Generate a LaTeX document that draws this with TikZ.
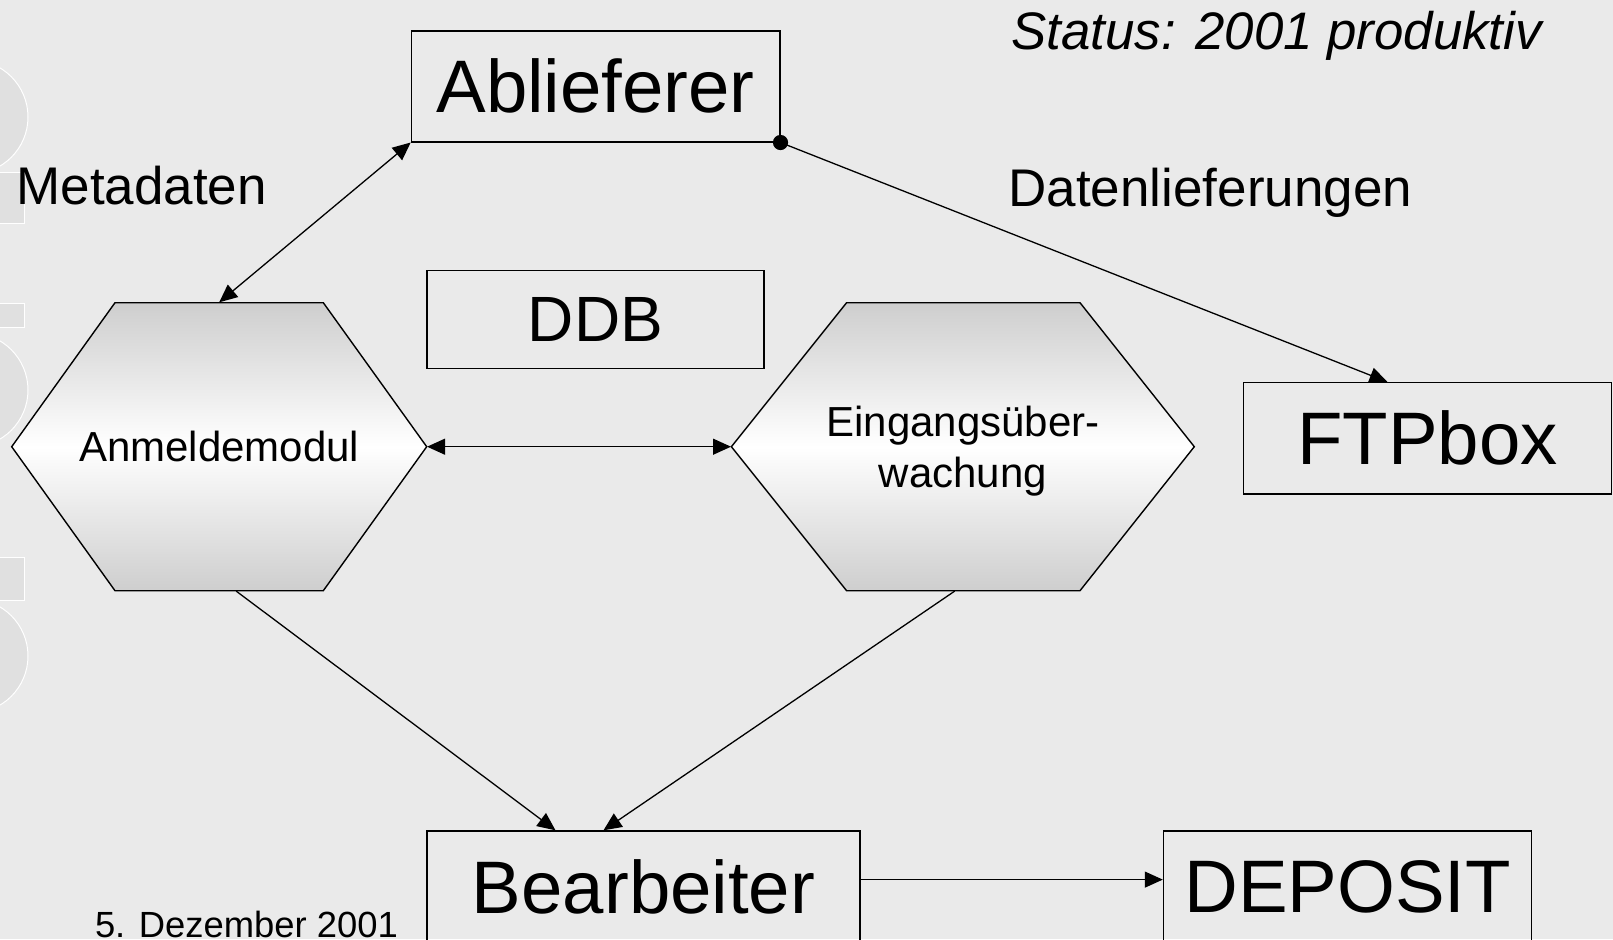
\documentclass[tikz,border=0pt]{standalone}
\usepackage{fontspec}
\setmainfont{Liberation Sans}
\usetikzlibrary{positioning, arrows.meta}

\definecolor{slidegray}{RGB}{234,234,234}
\definecolor{logogray}{RGB}{224,224,224}
\definecolor{hexgray}{RGB}{206,206,206}

\tikzset{
	box/.style={draw, line width=0.7pt, inner sep=0pt, font=\fontsize{37.2}{44}\selectfont},
	hexfill/.style={draw, line width=0.7pt, top color=hexgray, bottom color=hexgray, middle color=white},
	hexlabel/.style={inner sep=0pt, align=center, text depth=0pt, font=\fontsize{21}{25.4}\selectfont},
	caption/.style={inner sep=0pt, anchor=base west, font=\fontsize{26.5}{31}\selectfont},
	logo/.style={fill=logogray, draw=white, line width=0.5pt},
	link/.style={line width=0.65pt, -{Triangle[length=9pt, width=8pt]}},
	twoway/.style={line width=0.65pt, {Triangle[length=9pt, width=8pt]}-{Triangle[length=9pt, width=8pt]}}
}

\begin{document}
\begin{tikzpicture}[x=0.5pt, y=-0.5pt]
		\fill [slidegray] (0,0) rectangle (1613,939);
		\useasboundingbox (0,0) rectangle (1613,939);
		% faint logo at the left edge
		\foreach \ya/\yb in {172/223, 303/327, 557/600}
			\draw [logo] (-2,\ya) rectangle (24,\yb);
		\foreach \yc in {117, 390, 656}
			\draw [logo] (-29,\yc) circle [radius=28.5pt];
		% the two modules
		\shadedraw [hexfill] (11.7,446.7) -- (115,302.7) -- (323.3,302.7) -- (426.7,446.7) -- (323.3,590.7) -- (115,590.7) -- cycle;
		\shadedraw [hexfill] (731.4,446.7) -- (846.6,302.7) -- (1080,302.7) -- (1194.3,446.7) -- (1080,590.7) -- (846.6,590.7) -- cycle;
		\node [hexlabel, minimum width=207.5pt, minimum height=144pt] (anm) at (219.2,446.7) {Anmeldemodul};
		\node [hexlabel, minimum width=231.5pt, minimum height=144pt] (ein) at (962.9,446.7) {Eingangsüber-\\wachung};
		% boxes
		\node [box, minimum width=184.2pt, minimum height=55.5pt] (abl) at (595.6,86.3) {Ablieferer};
		\node [box, minimum width=168.5pt, minimum height=48.9pt, font=\fontsize{32}{38}\selectfont] (ddb) at (595.5,319.4) {DDB};
		\node [box, minimum width=184.2pt, minimum height=55.6pt] (ftp) at (1427.5,438.3) {FTPbox};
		\node [box, minimum width=216.5pt, minimum height=55.5pt] (bea) at (643.5,886.5) {Bearbeiter};
		\node [box, minimum width=184.1pt, minimum height=55.5pt] (dep) at (1347.6,886.5) {DEPOSIT};
		% texts
		\node [caption] (meta) at (16,204) {Metadaten};
		\node [caption] (liefer) at (1008,206) {Datenlieferungen};
		\node [caption, font=\fontsize{26.4}{31}\itshape] (status) at (1011,49.4) {Status: 2001 produktiv};
		\node [caption, font=\fontsize{18.2}{21}\selectfont] (datum) at (94.6,937) {5. Dezember 2001};
		% connectors
		\draw [twoway] (abl.south west) -- (anm.north);
		\fill (abl.south east) circle [radius=3.8pt];
		\draw [link] (abl.south east) -- ([xshift=-20pt]ftp.north);
		\draw [twoway] (anm.east) -- (ein.west);
		\draw [link] ([xshift=8.5pt]anm.south) -- ([xshift=-44pt]bea.north);
		\draw [link] ([xshift=-4.1pt]ein.south) -- ([xshift=-20pt]bea.north);
		\draw [link] (bea.east |- 0,879.6) -- (dep.west |- 0,879.6);
	\end{tikzpicture}
\end{document}
